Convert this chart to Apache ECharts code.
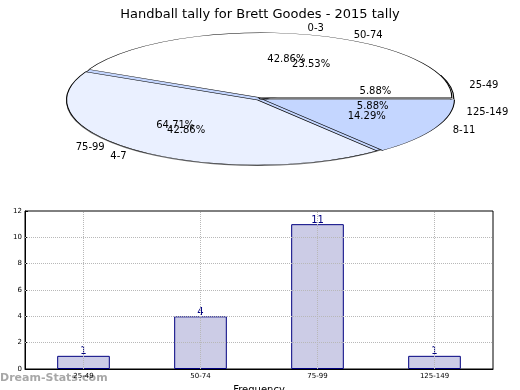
<!DOCTYPE html>
<html>
<head>
<meta charset="utf-8">
<script src="https://cdn.jsdelivr.net/npm/echarts@6/dist/echarts.min.js"></script>
<style>
html,body{margin:0;padding:0;background:#fff;}
#c{width:520px;height:390px;}
</style>
</head>
<body>
<div id="c"></div>
<script>
// ---- data ----
const titleText = 'Handball tally for Brett Goodes - 2015 tally';
const pie1Labels = ['0-3', '4-7', '8-11'];
const pie1Values = [3, 3, 1];
const pie2Labels = ['25-49', '50-74', '75-99', '125-149'];
const pie2Values = [1, 4, 11, 1];
const barCategories = ['25-49', '50-74', '75-99', '125-149'];
const barValues = [1, 4, 11, 1];
const yTickValues = [0, 2, 4, 6, 8, 10, 12];

// ---- styling / layout ----
const FONT = 'DejaVu Sans';
const pieColors = ['#ffffff', '#eaf0ff', '#c4d6ff'];
const PIE = { cx: 260, cy: 99, a: 191, b: 65 };

function makePieRenderer(values, labels, explode, zBase, withShadow) {
  const total = values.reduce((s, v) => s + v, 0);
  const starts = [];
  let acc = 0;
  values.forEach(v => { starts.push(acc); acc += v; });
  return function (params, api) {
    const i = params.dataIndex;
    const v = api.value(0);
    const t1 = starts[i] / total * Math.PI * 2;
    const t2 = t1 + v / total * Math.PI * 2;
    const mid = (t1 + t2) / 2;
    const e = explode[i];
    const ox = PIE.cx + e * PIE.a * Math.cos(mid);
    const oy = PIE.cy - e * PIE.b * Math.sin(mid);
    const sy = PIE.b / PIE.a;
    const children = [];
    if (withShadow) {
      children.push({
        type: 'sector', x: ox - 3, y: oy + 2, scaleY: sy,
        shape: { cx: 0, cy: 0, r: PIE.a, startAngle: -t2, endAngle: -t1, clockwise: true },
        style: { fill: '#707070' }, z2: 0
      });
    }
    children.push({
      type: 'sector', x: ox, y: oy, scaleY: sy,
      shape: { cx: 0, cy: 0, r: PIE.a, startAngle: -t2, endAngle: -t1, clockwise: true },
      style: { fill: pieColors[i % pieColors.length], stroke: '#000', lineWidth: 1.1, strokeNoScale: true },
      z2: zBase
    });
    const c = Math.cos(mid), s = Math.sin(mid);
    children.push({
      type: 'text', z2: 20,
      x: ox + 1.1 * PIE.a * c, y: oy - 1.1 * PIE.b * s,
      style: { text: labels[i], fill: '#000', font: '10px "' + FONT + '"',
               align: c > 0 ? 'left' : 'right', verticalAlign: 'middle' }
    });
    children.push({
      type: 'text', z2: 20,
      x: ox + 0.6 * PIE.a * c, y: oy - 0.6 * PIE.b * s,
      style: { text: (v / total * 100).toFixed(2) + '%', fill: '#000', font: '10px "' + FONT + '"',
               align: 'center', verticalAlign: 'middle' }
    });
    return { type: 'group', children: children };
  };
}

const chart = echarts.init(document.getElementById('c'), null, { renderer: 'canvas' });
const gridLineData = barCategories.map(c => ({ xAxis: c }))
  .concat(yTickValues.filter(v => v > 0 && v < 12).map(v => ({ yAxis: v })));

chart.setOption({
  animation: false,
  backgroundColor: '#ffffff',
  title: {
    text: titleText, left: 'center', top: 3,
    textStyle: { fontFamily: FONT, fontSize: 13, fontWeight: 'normal', color: '#000' }
  },
  graphic: [{
    type: 'text', left: 0, top: 373, z: 0,
    style: { text: 'Dream-Stats.com', fill: 'rgba(130,130,130,0.7)', font: 'bold 11px "' + FONT + '"' }
  }],
  grid: {
    left: 25, right: 27, top: 211, bottom: 21,
    containLabel: false, outerBoundsMode: 'none',
    show: true, borderColor: '#000', borderWidth: 1, backgroundColor: 'transparent'
  },
  xAxis: {
    type: 'category', data: barCategories,
    name: 'Frequency', nameLocation: 'middle', nameGap: 16,
    nameTextStyle: { fontFamily: FONT, fontSize: 10, color: '#000' },
    axisLine: { show: true, lineStyle: { color: '#000', width: 1 } },
    axisTick: { show: true, inside: true, alignWithLabel: true, length: 3, lineStyle: { color: '#000' } },
    axisLabel: { fontFamily: FONT, fontSize: 7, color: '#000', margin: 4 },
    splitLine: { show: false }
  },
  yAxis: {
    type: 'value', min: 0, max: 12, interval: 2,
    name: 'Stat Intervals', nameLocation: 'middle', nameGap: 16, nameRotate: 90,
    nameTextStyle: { fontFamily: FONT, fontSize: 10, color: '#000' },
    axisLine: { show: true, lineStyle: { color: '#000', width: 1 } },
    axisTick: { show: true, inside: true, length: 3, lineStyle: { color: '#000' } },
    axisLabel: { fontFamily: FONT, fontSize: 7, color: '#000', margin: 3 },
    splitLine: { show: false }
  },
  series: [
    {
      type: 'bar', data: barValues, barWidth: '45%',
      itemStyle: { color: '#cccce6', borderColor: '#000080', borderWidth: 1 },
      label: { show: true, position: 'top', distance: -1, color: '#000080', fontFamily: FONT, fontSize: 10 },
      markLine: {
        silent: true, symbol: 'none', z: 5, animation: false,
        label: { show: false },
        lineStyle: { color: '#b8b8b8', type: 'dotted', width: 1 },
        data: gridLineData
      }
    },
    {
      type: 'custom', coordinateSystem: 'none', silent: true,
      data: pie2Values.map(v => [v]),
      renderItem: makePieRenderer(pie2Values, pie2Labels, [0.015, 0, 0, 0], 2, true)
    },
    {
      type: 'custom', coordinateSystem: 'none', silent: true,
      data: pie1Values.map(v => [v]),
      renderItem: makePieRenderer(pie1Values, pie1Labels, [0.02, 0.02, 0.02], 5, false)
    }
  ]
});
</script>
</body>
</html>
